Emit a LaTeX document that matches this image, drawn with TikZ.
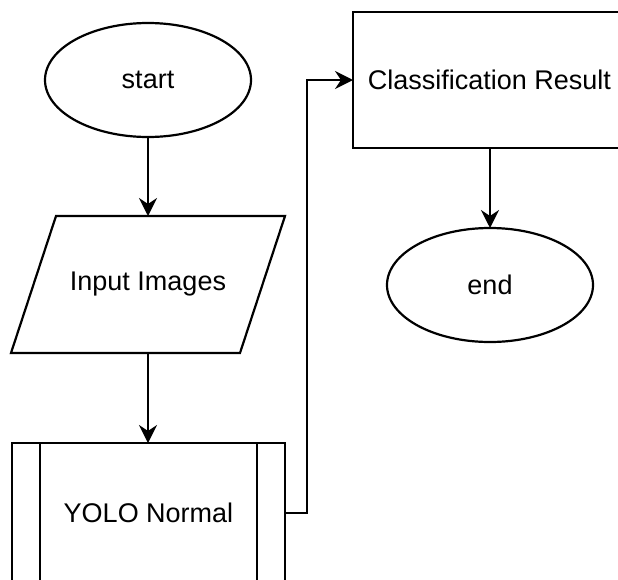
\documentclass[tikz,border=0pt]{standalone}
\usepackage{fontspec}
\setmainfont{Liberation Sans}
\usetikzlibrary{shapes.geometric,arrows.meta}
\begin{document}
\begin{tikzpicture}[x=1pt,y=-1pt,
  every node/.style={font=\fontsize{27}{32}\selectfont, inner sep=0pt, outer sep=0pt},
  shp/.style={draw=black, line width=2.2pt, fill=white},
  term/.style={shp, ellipse, minimum width=206pt, minimum height=114pt},
  iobox/.style={rectangle, minimum width=274pt, minimum height=137pt},
  procbox/.style={shp, rectangle, minimum width=273pt, minimum height=140pt},
  resbox/.style={shp, rectangle, minimum width=273pt, minimum height=136pt},
  conn/.style={line width=2.2pt, -{Stealth[length=18pt,width=18pt,inset=6pt]}}
]
\useasboundingbox (0,0) rectangle (618,579);
\clip (0,0) rectangle (618,579);
\node[term] (start) at (148,80) {start};
\node[iobox] (input) at (148,284.5) {};
\draw[shp, line join=miter] ([xshift=45pt]input.north west) -- (input.north east)
   -- ([xshift=-45pt]input.south east) -- (input.south west) -- cycle;
\node at (input.center) {Input Images};
\node[procbox] (yolo) at (148.5,513) {YOLO Normal};
\draw[line width=2.2pt] ([xshift=28pt]yolo.north west) -- ([xshift=28pt]yolo.south west);
\draw[line width=2.2pt] ([xshift=-28pt]yolo.north east) -- ([xshift=-28pt]yolo.south east);
\node[resbox] (res) at (489.5,80) {Classification Result};
\node[term] (end) at (490,285) {end};
\draw[conn] (start.south) -- (start.south |- input.north);
\draw[conn] (start.south |- input.south) -- (start.south |- yolo.north);
\draw[conn] (yolo.east) -- ++(22,0) |- (res.west);
\draw[conn] (end.north |- res.south) -- (end.north);
\end{tikzpicture}
\end{document}
